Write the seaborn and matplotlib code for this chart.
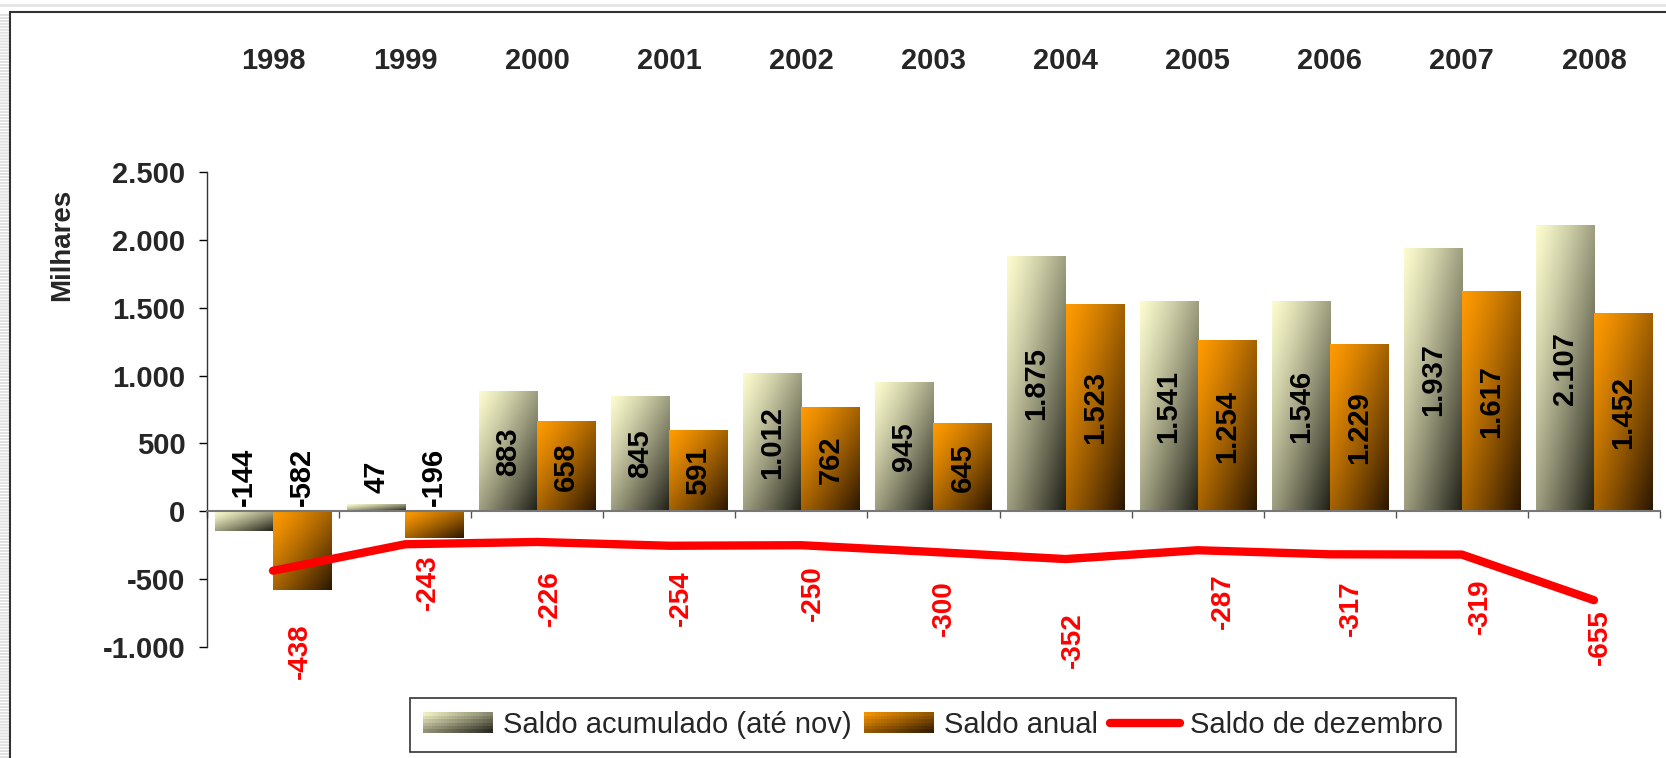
import numpy as np
import pandas as pd
import seaborn as sns
import matplotlib
matplotlib.use("Agg")
import matplotlib.pyplot as plt
import matplotlib.transforms as mtransforms
from matplotlib.colors import to_rgb
from matplotlib.patches import Rectangle
from matplotlib.lines import Line2D
from matplotlib.legend_handler import HandlerBase

# dados (milhares)
anos = ["1998", "1999", "2000", "2001", "2002", "2003", "2004", "2005", "2006", "2007", "2008"]
acumulado = [-144, 47, 883, 845, 1012, 945, 1875, 1541, 1546, 1937, 2107]
anual = [-582, -196, 658, 591, 762, 645, 1523, 1254, 1229, 1617, 1452]
dezembro = [-438, -243, -226, -254, -250, -300, -352, -287, -317, -319, -655]
yticks = [-1000, -500, 0, 500, 1000, 1500, 2000, 2500]
series = ["Saldo acumulado (até nov)", "Saldo anual"]

# posicao dos rotulos vermelhos (deslocamento em pixels em relacao ao ponto)
lbl_dx = [27, 23, 13, 12, 11, 10, 7, 25, 21, 18, 6]
lbl_dy = [80, 38, 56, 52, 48, 56, 81, 51, 54, 52, 37]

grad_acum = ("#FBFBCD", "#1E1E16")
grad_anual = ("#FF9A00", "#2A1600")

sns.set_theme(style="white")
plt.rcParams['font.family'] = ['Liberation Sans', 'DejaVu Sans']


def fmt(v):
    return f"{v:,}".replace(",", ".")


def gradiente(c0, c1, n=64):
    u = np.linspace(0, 1, n)
    t = ((u[None, :] + u[:, None]) / 2) ** 1.25
    a, b = np.array(to_rgb(c0)), np.array(to_rgb(c1))
    return a + (b - a) * t[..., None]


class GradHandler(HandlerBase):
    def __init__(self, c0, c1, nx=24, ny=6):
        super().__init__()
        self.c0, self.c1 = np.array(to_rgb(c0)), np.array(to_rgb(c1))
        self.nx, self.ny = nx, ny

    def create_artists(self, legend, orig_handle, xdescent, ydescent,
                       width, height, fontsize, trans):
        arts = []
        for i in range(self.nx):
            for j in range(self.ny):
                t = ((i + 0.5) / self.nx + (j + 0.5) / self.ny) / 2
                col = self.c0 + (self.c1 - self.c0) * t
                y0 = -ydescent + height * (1 - (j + 1) / self.ny)
                arts.append(Rectangle((-xdescent + width * i / self.nx, y0),
                                      width / self.nx * 1.05, height / self.ny * 1.05,
                                      facecolor=col, edgecolor="none", transform=trans))
        return arts


d = pd.DataFrame({"Ano": anos * 2,
                  "Serie": [series[0]] * len(anos) + [series[1]] * len(anos),
                  "Valor": acumulado + anual})

W, H = 1666, 758
fig = plt.figure(figsize=(W / 100, H / 100), dpi=100)
fig.patch.set_facecolor("white")
ax = fig.add_axes([207 / W, 1 - 647 / H, (1660 - 207) / W, (647 - 172) / H])

sns.barplot(data=d, x="Ano", y="Valor", hue="Serie", hue_order=series,
            palette=["#EEEEC0", "#E08800"], width=0.88, saturation=1,
            legend=False, ax=ax)

# preenchimento em gradiente
for cont, (c0, c1) in zip(ax.containers, [grad_acum, grad_anual]):
    for bar in cont.patches:
        x0, w = bar.get_x(), bar.get_width()
        y0, h = bar.get_y(), bar.get_height()
        lo, hi = min(y0, y0 + h), max(y0, y0 + h)
        ax.imshow(gradiente(c0, c1), extent=(x0, x0 + w, lo, hi), origin="upper",
                  aspect="auto", interpolation="bilinear", zorder=2)
        bar.set_facecolor("none")

# rotulos das barras
for cont, vals in zip(ax.containers, [acumulado, anual]):
    for bar, v in zip(cont.patches, vals):
        x = bar.get_x() + bar.get_width() / 2
        y = v / 2 if v > 300 else 255
        ax.text(x, y, fmt(v), rotation=90, ha="center", va="center",
                fontsize=21, fontweight="bold", color="black", zorder=5)

# linha de dezembro
sns.lineplot(x=np.arange(len(anos)), y=dezembro, color="#FF0000", lw=6,
             ax=ax, zorder=4, solid_capstyle="round", solid_joinstyle="round")
for i, v in enumerate(dezembro):
    ax.annotate(fmt(v), (i, v), xytext=(lbl_dx[i], -lbl_dy[i]), textcoords="offset pixels",
                rotation=90, ha="center", va="center", color="#FF0000",
                fontsize=20, fontweight="bold", annotation_clip=False)

ax.set_xlim(-0.5, len(anos) - 0.5)
ax.set_ylim(-1000, 2500)
ax.set_xlabel("")
ax.set_ylabel("")
ax.set_xticks(np.arange(-0.5, len(anos), 1), labels=[])
ax.set_yticks(yticks, labels=[fmt(v) for v in yticks])
for lab in ax.get_yticklabels():
    lab.set_fontweight("bold")
    lab.set_fontsize(21)
ax.tick_params(axis="y", direction="out", length=5.5, width=1, color="black", pad=10, left=True)
ax.tick_params(axis="x", direction="out", length=5, width=1, color="#555555", bottom=True)
for s in ["top", "right"]:
    ax.spines[s].set_visible(False)
ax.spines["left"].set_color("#333333")
ax.spines["left"].set_linewidth(1)
ax.spines["bottom"].set_position(("data", 0))
ax.spines["bottom"].set_color("#777777")
ax.spines["bottom"].set_linewidth(1.5)
ax.spines["bottom"].set_zorder(3)
ax.patch.set_alpha(0)

# anos no topo
tr = mtransforms.blended_transform_factory(ax.transData, fig.transFigure)
for i, a in enumerate(anos):
    ax.text(i, 1 - 61 / H, a, transform=tr, ha="center", va="center",
            fontsize=21, fontweight="bold")

fig.text(62 / W, 1 - 245 / H, "Milhares", rotation=90, ha="center", va="center",
         fontsize=20, fontweight="bold")

# legenda
h1 = Rectangle((0, 0), 1, 1)
h2 = Rectangle((0, 0), 1, 1)
h3 = Line2D([], [], color="#FF0000", lw=6)
leg = fig.legend([h1, h2, h3], series + ["Saldo de dezembro"],
                 handler_map={h1: GradHandler(*grad_acum), h2: GradHandler(*grad_anual)},
                 loc="center", bbox_to_anchor=(933 / W, 1 - 725 / H), ncol=3,
                 fontsize=21, frameon=True, fancybox=False, edgecolor="black",
                 handlelength=2.4, handleheight=0.7, handletextpad=0.35,
                 columnspacing=0.4, borderpad=0.45, borderaxespad=0)
leg.get_frame().set_linewidth(1.2)

# moldura e listras
fig.add_artist(Line2D([10 / W, 10 / W], [0, 1 - 12 / H], transform=fig.transFigure,
                      color="#333333", lw=1.5))
fig.add_artist(Line2D([10 / W, 1], [1 - 12 / H, 1 - 12 / H], transform=fig.transFigure,
                      color="#333333", lw=1.5))
fig.add_artist(Line2D([0, 1], [1 - 5 / H, 1 - 5 / H], transform=fig.transFigure,
                      color="#E4E4E4", lw=2))
sax = fig.add_axes([0, 0, 9 / W, 1 - 14 / H])
rows = np.array([0.88 if r % 3 != 2 else 1.0 for r in range(H)])
sax.imshow(np.repeat(rows[:, None], 9, axis=1), cmap="gray", vmin=0, vmax=1, aspect="auto")
sax.axis("off")

fig.savefig("out.png", dpi=100)
